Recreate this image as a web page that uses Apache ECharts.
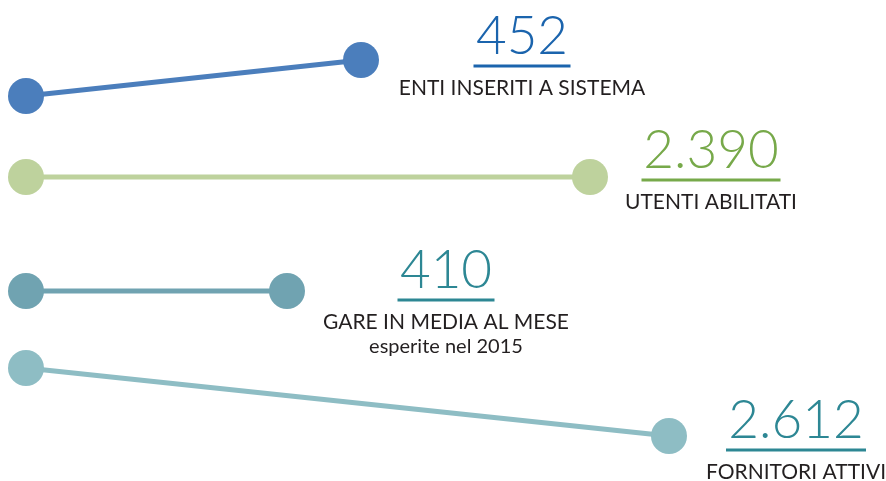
<!DOCTYPE html>
<html>
<head>
<meta charset="utf-8">
<script src="https://cdn.jsdelivr.net/npm/echarts@6/dist/echarts.min.js"></script>
<style>
  html, body { margin: 0; padding: 0; background: #fff; }
  #chart { width: 886px; height: 481px; }
</style>
</head>
<body>
<div id="chart"></div>
<script>
// values shown in the infographic
var values = ['452', '2.390', '410', '2.612'];
var labels = ['ENTI INSERITI A SISTEMA', 'UTENTI ABILITATI', 'GARE IN MEDIA AL MESE', 'FORNITORI ATTIVI'];
var notes = ['', '', 'esperite nel 2015', ''];

// segment ends, in axis units (x 0-886, y 0-481 from the top)
var startX = [26, 26, 26, 26];
var startY = [96, 177, 291, 368];
var endX = [361, 590, 287, 669];
var endY = [60, 177, 291, 436];

var dotColors = ['#4b7ebc', '#bed29d', '#70a3b1', '#8ebdc4'];
var numColors = ['#1b64ad', '#77a94a', '#2d8794', '#2d8794'];

var chart = echarts.init(document.getElementById('chart'));

var series = values.map(function (v, i) {
  return {
    type: 'line',
    data: [[startX[i], startY[i]], [endX[i], endY[i]]],
    symbol: 'circle',
    symbolSize: 36,
    showAllSymbol: true,
    silent: true,
    lineStyle: { color: dotColors[i], width: 5 },
    itemStyle: { color: dotColors[i] },
    animation: false
  };
});

// text blocks: number centre x, number centre y
var blockX = [522, 711, 446, 796];
var blockY = [37, 151, 271, 421];
var lineW = [97, 139, 97, 140];

var graphic = [];
values.forEach(function (v, i) {
  graphic.push({
    type: 'text', x: blockX[i], y: blockY[i],
    style: { text: v, font: '300 53px Lato', fill: numColors[i], textAlign: 'center', textVerticalAlign: 'middle' }
  });
  graphic.push({
    type: 'rect', shape: { x: blockX[i] - lineW[i] / 2, y: blockY[i] + 27.5, width: lineW[i], height: 3 },
    style: { fill: numColors[i] }
  });
  graphic.push({
    type: 'text', x: blockX[i], y: blockY[i] + 51,
    style: { text: labels[i], font: '21px Lato', fill: '#231f20', textAlign: 'center', textVerticalAlign: 'middle' }
  });
  if (notes[i]) {
    graphic.push({
      type: 'text', x: blockX[i], y: blockY[i] + 76,
      style: { text: notes[i], font: '20px Lato', fill: '#231f20', textAlign: 'center', textVerticalAlign: 'middle' }
    });
  }
});

chart.setOption({
  animation: false,
  grid: { left: 0, right: 0, top: 0, bottom: 0 },
  xAxis: { type: 'value', min: 0, max: 886, show: false },
  yAxis: { type: 'value', min: 0, max: 481, inverse: true, show: false },
  series: series,
  graphic: graphic
});
</script>
</body>
</html>
